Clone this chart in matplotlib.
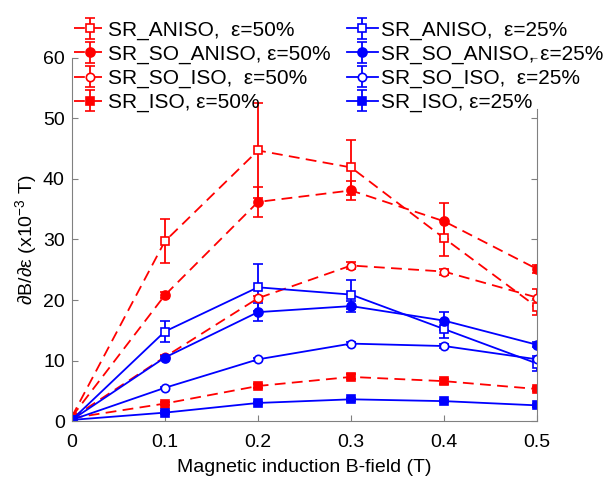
import matplotlib
matplotlib.use('Agg')
import matplotlib.pyplot as plt

plt.rcParams['font.family'] = ['Liberation Sans', 'DejaVu Sans']
plt.rcParams['mathtext.fontset'] = 'custom'
plt.rcParams['mathtext.rm'] = 'Liberation Sans'

# B-field (T)
b_field = [0, 0.1, 0.2, 0.3, 0.4, 0.5]

# eps = 50% (red, dashed)
red_aniso = [0.7, 29.7, 44.7, 41.9, 30.2, 18.8]
red_aniso_err = [0.2, 3.6, 7.8, 4.5, 3.0, 1.3]
red_so_aniso = [0.7, 20.8, 36.2, 38.1, 33.0, 25.1]
red_so_aniso_err = [0.2, 0.5, 2.5, 1.5, 3.0, 0.7]
red_so_iso = [0.5, 10.6, 20.3, 25.7, 24.7, 20.4]
red_so_iso_err = [0.1, 0.3, 0.4, 0.5, 0.5, 1.4]
red_iso = [0.5, 2.9, 5.8, 7.3, 6.6, 5.3]
red_iso_err = [0.1, 0.2, 0.3, 0.4, 0.4, 0.4]

# eps = 25% (blue, solid)
blue_aniso = [0.2, 14.8, 22.1, 20.9, 15.2, 9.5]
blue_aniso_err = [0.1, 1.8, 3.9, 2.4, 1.5, 1.2]
blue_so_aniso = [0.2, 10.5, 18.0, 19.0, 16.6, 12.6]
blue_so_aniso_err = [0.1, 0.3, 1.5, 0.9, 1.5, 0.4]
blue_so_iso = [0.2, 5.5, 10.2, 12.8, 12.4, 10.2]
blue_so_iso_err = [0.1, 0.2, 0.2, 0.3, 0.3, 0.3]
blue_iso = [0.2, 1.4, 3.0, 3.6, 3.3, 2.6]
blue_iso_err = [0.1, 0.2, 0.2, 0.2, 0.2, 0.2]

labels_50 = ['SR_ANISO,  ε=50%', 'SR_SO_ANISO, ε=50%', 'SR_SO_ISO,  ε=50%', 'SR_ISO, ε=50%']
labels_25 = ['SR_ANISO,  ε=25%', 'SR_SO_ANISO, ε=25%', 'SR_SO_ISO,  ε=25%', 'SR_ISO, ε=25%']

red_series = [(red_aniso, red_aniso_err), (red_so_aniso, red_so_aniso_err),
              (red_so_iso, red_so_iso_err), (red_iso, red_iso_err)]
blue_series = [(blue_aniso, blue_aniso_err), (blue_so_aniso, blue_so_aniso_err),
               (blue_so_iso, blue_so_iso_err), (blue_iso, blue_iso_err)]
markers = [('s', 5.5, True), ('o', 6.5, False), ('o', 6, True), ('s', 5.5, False)]

fig = plt.figure(figsize=(6.03, 4.78), dpi=100)
ax = fig.add_axes([0.119, 0.119, 0.772, 0.760])

for series, labels, color, ls in [(red_series, labels_50, '#ff0000', (0, (6, 3.5))),
                                  (blue_series, labels_25, '#0000ff', '-')]:
    for (y, err), lab, (mk, ms, hollow) in zip(series, labels, markers):
        ax.errorbar(b_field, y, yerr=err, color=color, ls=ls, lw=1.3,
                    marker=mk, ms=ms, mfc='white' if hollow else color,
                    mec=color, mew=1.2, capsize=3.5, elinewidth=1.3,
                    capthick=1.3, label=lab)

ax.set_xlim(0, 0.5)
ax.set_ylim(0, 60)
ax.set_xticks([0, 0.1, 0.2, 0.3, 0.4, 0.5])
ax.set_xticklabels(['0', '0.1', '0.2', '0.3', '0.4', '0.5'])
ax.set_yticks(range(0, 61, 10))
ax.tick_params(direction='in', length=4, color='#808080', labelsize=14,
               right=True)
ax.tick_params(axis='x', pad=9)
ax.tick_params(axis='y', pad=5)
for s in ax.spines.values():
    s.set_color('#808080')
ax.spines['top'].set_visible(False)
ax.spines['right'].set_bounds(0, 51.5)

ax.set_xlabel('Magnetic induction B-field (T)', fontsize=14, labelpad=6)
ax.set_ylabel('∂B/∂ε (x10$^{-3}$ T)', fontsize=14, labelpad=2)

leg = ax.legend(ncol=2, loc='upper left', bbox_to_anchor=(0.116, 0.966),
                bbox_transform=fig.transFigure, frameon=False, fontsize=15,
                handlelength=1.5, handletextpad=0.15, columnspacing=0.75,
                labelspacing=0.24, borderaxespad=0, borderpad=0.2)

fig.savefig('out.png', dpi=100)
